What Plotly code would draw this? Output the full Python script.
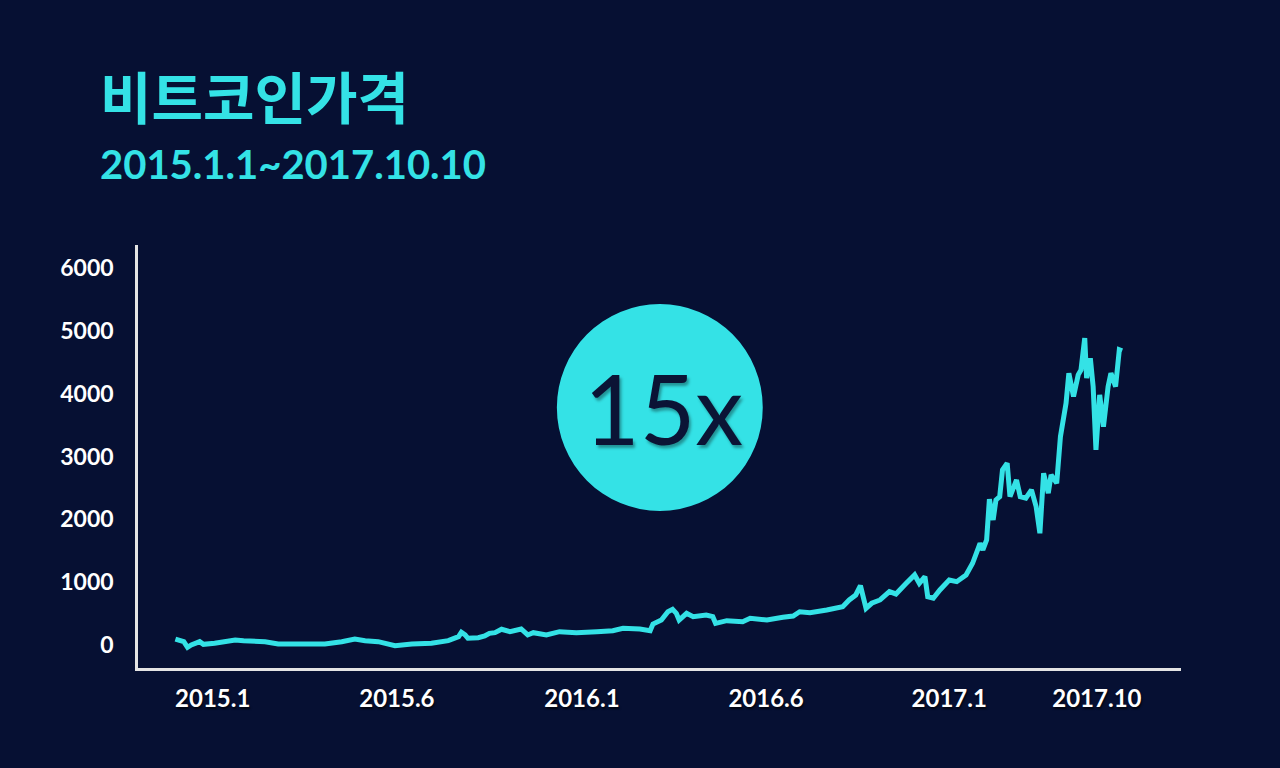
import plotly.graph_objects as go

# ---- data ----
dates = [
    "2015-01-01", "2015-01-06", "2015-01-10", "2015-01-14", "2015-01-18", "2015-01-27",
    "2015-01-31", "2015-02-12", "2015-03-06", "2015-03-15", "2015-04-07", "2015-04-21",
    "2015-05-20", "2015-06-10", "2015-06-28", "2015-07-12", "2015-07-23", "2015-08-06",
    "2015-08-24", "2015-09-11", "2015-10-02", "2015-10-20", "2015-10-31", "2015-11-03",
    "2015-11-07", "2015-11-10", "2015-11-21", "2015-11-28", "2015-12-03", "2015-12-09",
    "2015-12-16", "2015-12-25", "2016-01-06", "2016-01-13", "2016-01-19", "2016-02-02",
    "2016-02-16", "2016-03-05", "2016-03-27", "2016-04-13", "2016-04-24", "2016-05-12",
    "2016-05-23", "2016-05-26", "2016-06-04", "2016-06-11", "2016-06-16", "2016-06-20",
    "2016-06-23", "2016-07-01", "2016-07-08", "2016-07-22", "2016-07-29", "2016-08-01",
    "2016-08-13", "2016-08-30", "2016-09-07", "2016-09-25", "2016-10-12", "2016-10-23",
    "2016-10-30", "2016-11-10", "2016-11-28", "2016-12-15", "2016-12-22", "2016-12-29",
    "2017-01-03", "2017-01-06", "2017-01-09", "2017-01-15", "2017-01-24", "2017-02-03",
    "2017-02-10", "2017-02-21", "2017-03-02", "2017-03-07", "2017-03-13", "2017-03-16",
    "2017-03-22", "2017-03-29", "2017-04-08", "2017-04-16", "2017-04-26", "2017-05-03",
    "2017-05-11", "2017-05-14", "2017-05-18", "2017-05-21", "2017-05-25", "2017-05-28",
    "2017-06-01", "2017-06-04", "2017-06-09", "2017-06-12", "2017-06-19", "2017-06-23",
    "2017-06-29", "2017-07-05", "2017-07-10", "2017-07-14", "2017-07-18", "2017-07-23",
    "2017-07-26", "2017-08-01", "2017-08-05", "2017-08-11", "2017-08-14", "2017-08-19",
    "2017-08-24", "2017-08-27", "2017-08-31", "2017-09-02", "2017-09-06", "2017-09-09",
    "2017-09-12", "2017-09-16", "2017-09-20", "2017-09-25", "2017-09-28", "2017-10-03",
    "2017-10-07", "2017-10-10",
]
prices = [
    95, 69, 53, -37, 0, 53,
    11, 27, 80, 69, 53, 16,
    27, 16, 53, 96, 69, 53,
    -11, 16, 27, 69, 133, 202,
    160, 107, 117, 143, 186, 196,
    250, 212, 255, 160, 196, 160,
    212, 196, 212, 228, 266, 255,
    228, 334, 398, 530, 568, 505,
    398, 505, 451, 478, 451, 345,
    387, 371, 425, 398, 441, 462,
    530, 514, 557, 610, 717, 796,
    944, 717, 584, 664, 717, 849,
    812, 982, 1115, 982, 1088, 769,
    744, 876, 1035, 1008, 1115, 1301,
    1619, 1513, 1672, 2320, 1990, 2309,
    2361, 2787, 2893, 2361, 2627, 2361,
    2336, 2468, 2202, 1779, 2734, 2416,
    2707, 2575, 3317, 3849, 4326, 3954,
    4299, 4379, 4884, 4247, 4565, 4113,
    3105, 3981, 3476, 4113, 4326, 4113,
    4697, 4680,
]
tick_dates = ["2015-02-10", "2015-08-26", "2016-03-11", "2016-09-24", "2017-04-08", "2017-09-13"]
tick_labels = ["2015.1", "2015.6", "2016.1", "2016.6", "2017.1", "2017.10"]
y_ticks = [0, 1000, 2000, 3000, 4000, 5000, 6000]

title_text = "비트코인가격"
subtitle_text = "2015.1.1~2017.10.10"
badge_text = "15x"

BG = "#061033"
CYAN = "#34E2E6"
AXIS = "#e4e4e4"

fig = go.Figure()
fig.add_trace(go.Scatter(
    x=dates, y=prices, mode="lines",
    line=dict(color=CYAN, width=5),
    hoverinfo="skip", showlegend=False,
))

fig.update_layout(
    width=1280, height=768,
    paper_bgcolor=BG, plot_bgcolor=BG,
    margin=dict(l=138, r=99, t=245, b=100),
    showlegend=False,
    xaxis=dict(
        type="date",
        range=["2014-11-22", "2017-12-12"],
        showgrid=False, zeroline=False,
        showline=True, linecolor=AXIS, linewidth=2.5,
        tickmode="array", tickvals=tick_dates, ticktext=tick_labels,
        ticks="", ticklabelstandoff=7,
        tickfont=dict(family="Lato", size=24, color="white", weight="bold",
                      shadow="1px 2px 2px rgba(0,0,0,0.7)"),
    ),
    yaxis=dict(
        range=[-366, 6366],
        showgrid=False, zeroline=False,
        showline=True, linecolor=AXIS, linewidth=2.5,
        tickmode="array", tickvals=y_ticks,
        ticks="", ticklabelstandoff=17,
        tickfont=dict(family="Lato", size=23, color="white", weight="bold"),
    ),
    shapes=[dict(
        type="circle", xref="paper", yref="paper",
        x0=0.4016, x1=0.5990, y0=0.3712, y1=0.8605,
        fillcolor=CYAN, line=dict(width=0), layer="above",
    )],
    annotations=[
        dict(text=title_text, xref="paper", yref="paper",
             x=-0.0383, y=1.355, xanchor="left", yanchor="middle", showarrow=False,
             font=dict(family="Noto Sans CJK KR", size=56, color=CYAN, weight="bold")),
        dict(text=subtitle_text, xref="paper", yref="paper",
             x=-0.0383, y=1.1915, xanchor="left", yanchor="middle", showarrow=False,
             font=dict(family="Lato", size=40, color=CYAN, weight="bold")),
        dict(text=badge_text, xref="paper", yref="paper",
             x=0.5035, y=0.617, xanchor="center", yanchor="middle", showarrow=False,
             font=dict(family="Lato", size=96, color="#0b1435",
                       shadow="2px 3px 3px rgba(0,0,0,0.35)")),
    ],
)

fig.write_html(
    "out.html",
    config={"displayModeBar": False},
    post_script="document.body.style.margin='0';document.body.style.background='#061033';",
)
